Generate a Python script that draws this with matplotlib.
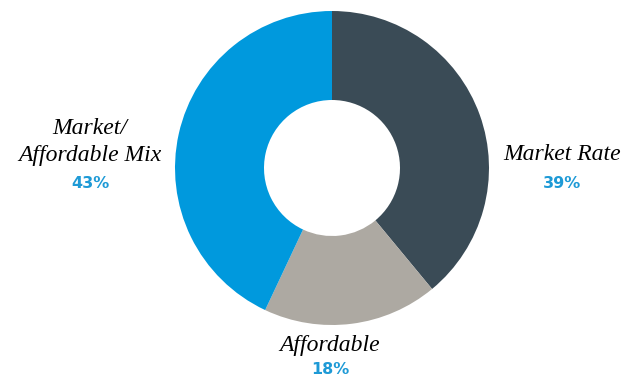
import matplotlib
matplotlib.use("Agg")
import matplotlib.pyplot as plt

categories = ["Market Rate", "Affordable", "Market/\nAffordable Mix"]
values = [39, 18, 43]
pct_labels = ["39%", "18%", "43%"]
colors = ["#3A4B56", "#ADA9A2", "#0099DD"]

H = 375
fig = plt.figure(figsize=(6.34, 3.75), dpi=100)
ax = fig.add_axes([0, 0, 1, 1])

ax.pie(values, colors=colors, startangle=90, counterclock=False,
       center=(332, H - 168), radius=157, frame=True,
       wedgeprops=dict(width=157 - 68, edgecolor="none"))
ax.set_xlim(0, 634)
ax.set_ylim(0, H)
ax.set_aspect("equal")
ax.axis("off")

label_pos = [(562, 155, 183), (330, 346, 369), (90, 142, 183)]
for cat, pct, (x, y, yp) in zip(categories, pct_labels, label_pos):
    ax.text(x, H - y, cat, ha="center", va="center", fontsize=17,
            family="Liberation Serif", style="italic", linespacing=1.35)
    ax.text(x, H - yp, pct, ha="center", va="center", fontsize=11.5,
            family="DejaVu Sans", weight="bold", color="#1E9AD6")

fig.savefig("out.png", dpi=100)
